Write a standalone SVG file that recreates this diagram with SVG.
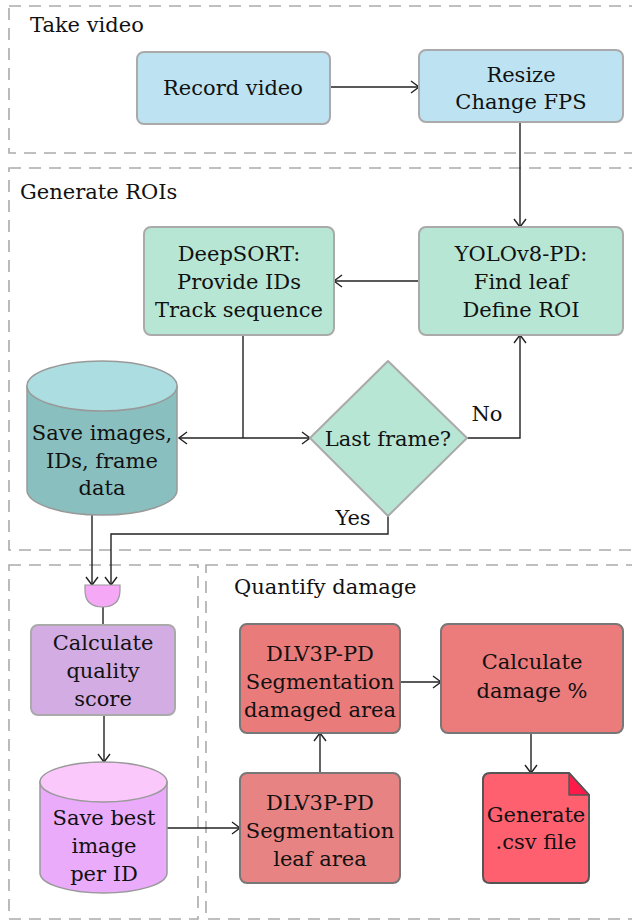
<svg xmlns="http://www.w3.org/2000/svg" width="632" height="920" viewBox="0 0 632 920">
<style>
.region{fill:none;stroke:#aaaaaa;stroke-width:1.6;stroke-dasharray:12 8}
.t{font-family:"DejaVu Serif","Liberation Serif",serif;font-size:21px;fill:#111;text-anchor:middle}
.lbl{font-family:"DejaVu Serif","Liberation Serif",serif;font-size:21px;fill:#111}
.c{fill:none;stroke:#222;stroke-width:1.4}
.blue{fill:#bde3f2;stroke:#aaaaaa;stroke-width:2}
.green{fill:#b8e6d4;stroke:#aaaaaa;stroke-width:2}
.red{stroke:#777777;stroke-width:2}
</style>
<defs>
<marker id="ah" markerUnits="userSpaceOnUse" markerWidth="12" markerHeight="14" refX="9" refY="7" orient="auto">
<path d="M1,1 L9,7 L1,13" fill="none" stroke="#222" stroke-width="1.4"/>
</marker>
</defs>

<g id="regions">
<rect class="region" x="9" y="6" width="640" height="147"/>
<rect class="region" x="9" y="168" width="640" height="382"/>
<rect class="region" x="9" y="565" width="189" height="354"/>
<rect class="region" x="206" y="565" width="440" height="354"/>
<text class="lbl" x="30" y="32">Take video</text>
<text class="lbl" x="20" y="199">Generate ROIs</text>
<text class="lbl" x="234" y="594">Quantify damage</text>
</g>

<g id="connectors">
<path class="c" d="M330,87 H419" marker-end="url(#ah)"/>
<path class="c" d="M520,122 V227" marker-end="url(#ah)"/>
<path class="c" d="M419,281 H334" marker-end="url(#ah)"/>
<path class="c" d="M243,335 V438"/>
<path class="c" d="M243,438 H179" marker-end="url(#ah)"/>
<path class="c" d="M243,438 H310" marker-end="url(#ah)"/>
<path class="c" d="M467,438 H520 V335" marker-end="url(#ah)"/>
<path class="c" d="M388,516 V534 H111 V585" marker-end="url(#ah)"/>
<path class="c" d="M92,515 V585" marker-end="url(#ah)"/>
<path class="c" d="M103,607 V625"/>
<path class="c" d="M104,715 V762" marker-end="url(#ah)"/>
<path class="c" d="M167,828 H240" marker-end="url(#ah)"/>
<path class="c" d="M320,773 V733" marker-end="url(#ah)"/>
<path class="c" d="M400,682 H441" marker-end="url(#ah)"/>
<path class="c" d="M531,733 V773" marker-end="url(#ah)"/>
</g>

<g id="record-video">
<rect class="blue" x="137" y="52" width="193" height="72" rx="7"/>
<text class="t" x="233" y="95">Record video</text>
</g>
<g id="resize">
<rect class="blue" x="419" y="50" width="204" height="72" rx="7"/>
<text class="t" x="521" y="82">Resize</text>
<text class="t" x="521" y="109">Change FPS</text>
</g>
<g id="yolo">
<rect class="green" x="419" y="227" width="204" height="108" rx="7"/>
<text class="t" x="521" y="261">YOLOv8-PD:</text>
<text class="t" x="521" y="289">Find leaf</text>
<text class="t" x="521" y="317">Define ROI</text>
</g>
<g id="deepsort">
<rect class="green" x="144" y="227" width="190" height="108" rx="7"/>
<text class="t" x="239" y="261">DeepSORT:</text>
<text class="t" x="239" y="289">Provide IDs</text>
<text class="t" x="239" y="317">Track sequence</text>
</g>
<g id="save-images">
<path d="M27,386 V490 A75,25 0 0 0 177,490 V386 Z" fill="#89bfbf" stroke="#999" stroke-width="1.5"/>
<ellipse cx="102" cy="386" rx="75" ry="25" fill="#acdde1" stroke="#999" stroke-width="1.5"/>
<text class="t" x="102" y="440">Save images,</text>
<text class="t" x="102" y="468">IDs, frame</text>
<text class="t" x="102" y="495">data</text>
</g>
<g id="last-frame">
<polygon points="388,361 467,438 388,516 310,438" fill="#b8e6d4" stroke="#aaaaaa" stroke-width="2" stroke-linejoin="round"/>
<text class="t" x="388" y="446">Last frame?</text>
<text class="t" x="487" y="421">No</text>
<text class="t" x="353" y="525">Yes</text>
</g>
<g id="merge">
<path d="M85,585 H120 V590 Q120,607 102.5,607 Q85,607 85,590 Z" fill="#f5a8f5" stroke="#999" stroke-width="1.2"/>
</g>
<g id="quality">
<rect x="31" y="625" width="144" height="90" rx="7" fill="#d3ace4" stroke="#aaaaaa" stroke-width="2"/>
<text class="t" x="103" y="650">Calculate</text>
<text class="t" x="103" y="678">quality</text>
<text class="t" x="103" y="706">score</text>
</g>
<g id="save-best">
<path d="M40,782 V873 A63.5,20 0 0 0 167,873 V782 Z" fill="#eaabfb" stroke="#999" stroke-width="1.5"/>
<ellipse cx="103.5" cy="782" rx="63.5" ry="20" fill="#fbc8fb" stroke="#999" stroke-width="1.5"/>
<text class="t" x="104" y="825">Save best</text>
<text class="t" x="104" y="853">image</text>
<text class="t" x="104" y="881">per ID</text>
</g>
<g id="seg-damaged">
<rect class="red" x="240" y="624" width="160" height="109" rx="7" fill="#ea7b7b"/>
<text class="t" x="320" y="661">DLV3P-PD</text>
<text class="t" x="320" y="689">Segmentation</text>
<text class="t" x="320" y="717">damaged area</text>
</g>
<g id="calc-damage">
<rect class="red" x="441" y="624" width="182" height="109" rx="7" fill="#ec7b7b"/>
<text class="t" x="532" y="669">Calculate</text>
<text class="t" x="532" y="698">damage %</text>
</g>
<g id="seg-leaf">
<rect class="red" x="240" y="773" width="160" height="110" rx="7" fill="#e88383"/>
<text class="t" x="320" y="810">DLV3P-PD</text>
<text class="t" x="320" y="838">Segmentation</text>
<text class="t" x="320" y="866">leaf area</text>
</g>
<g id="csv">
<path d="M490,773 H569 L589,795 V876 Q589,883 582,883 H490 Q483,883 483,876 V780 Q483,773 490,773 Z" fill="#ff6070" stroke="#555" stroke-width="2" stroke-linejoin="round"/>
<path d="M569,773 L589,795 L569,795 Z" fill="#ff1a4a" stroke="#555" stroke-width="1.5" stroke-linejoin="round"/>
<text class="t" x="536" y="822">Generate</text>
<text class="t" x="536" y="849">.csv file</text>
</g>
</svg>
